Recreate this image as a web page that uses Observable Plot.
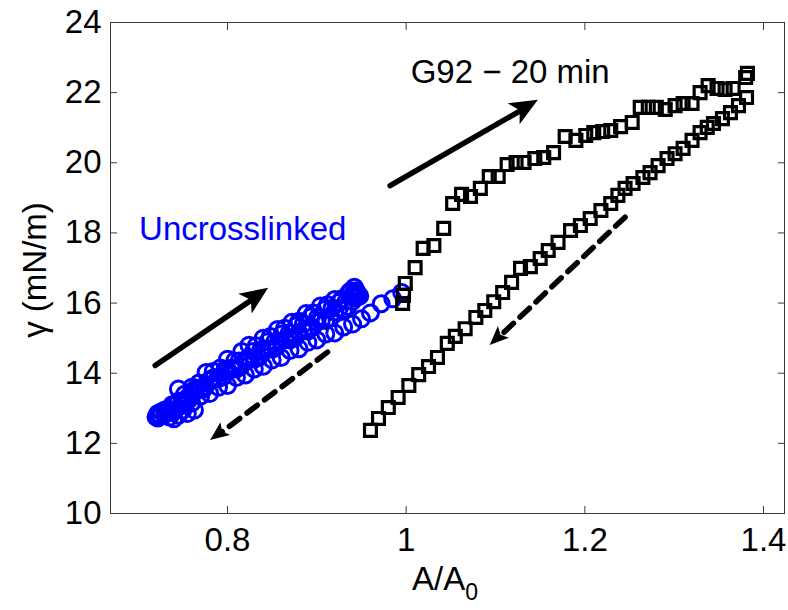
<!DOCTYPE html>
<html><head><meta charset="utf-8">
<script src="https://cdn.jsdelivr.net/npm/d3@7"></script>
<script src="https://cdn.jsdelivr.net/npm/@observablehq/plot@0.6"></script>
<style>
body{margin:0;background:#fff}
#chart svg{font-family:"Liberation Sans",Arial,Helvetica,sans-serif;overflow:visible}
</style>
</head><body><div id="chart"></div>
<script>
// Uncrosslinked (blue circles): several compression/expansion cycles
const uncrossX = [
 0.995,0.985,0.972,0.960,0.950,0.940,0.930,0.920,0.910,0.900,0.890,0.880,0.870,0.860,0.850,0.840,0.830,0.820,0.810,0.800,0.790,0.780,0.770,0.760,0.750,0.740,0.730,0.722,
 0.722,0.730,0.738,0.745,0.752,0.760,0.768,0.776,0.784,0.792,0.800,0.808,0.816,0.824,0.832,0.840,0.848,0.856,0.864,0.872,0.880,0.888,0.896,0.904,0.912,0.920,0.928,0.936,0.944,
 0.940,0.930,0.920,0.910,0.900,0.890,0.880,0.870,0.860,0.850,0.840,0.830,0.820,0.810,0.800,0.790,0.780,0.770,0.760,0.750,0.740,0.730,0.722,
 0.725,0.733,0.741,0.749,0.757,0.765,0.773,0.781,0.789,0.797,0.805,0.813,0.821,0.829,0.837,0.845,0.853,0.861,0.869,0.877,0.885,0.893,0.901,0.909,0.917,0.925,0.933,0.941,0.946,
 0.944,0.935,0.925,0.915,0.905,0.895,0.885,0.875,0.865,0.855,0.845,0.835,0.825,0.815,0.805,0.795,0.785,0.775,0.765,0.755,0.745,0.735,0.726,0.720,
 0.735,0.745,0.755,0.763,0.750,0.740,0.938,0.945,0.942,0.948
];
const uncrossY = [
 16.30,16.12,15.98,15.72,15.55,15.40,15.32,15.15,15.12,14.95,14.88,14.70,14.65,14.45,14.38,14.20,14.12,13.95,13.88,13.65,13.60,13.42,13.35,13.15,13.08,12.90,12.82,12.72,
 12.85,12.95,13.10,13.55,13.40,13.60,13.72,14.02,14.05,14.15,14.40,14.35,14.62,14.80,14.78,15.00,15.05,15.25,15.28,15.45,15.48,15.70,15.72,15.92,15.95,16.10,16.12,16.30,16.35,
 16.05,15.82,15.75,15.50,15.45,15.20,15.15,14.95,14.92,14.68,14.62,14.40,14.35,14.12,14.10,13.85,13.80,13.55,13.48,13.20,13.10,12.85,12.80,
 12.78,12.92,12.95,13.20,13.25,13.50,13.55,13.82,13.85,14.10,14.12,14.35,14.40,14.62,14.65,14.90,14.90,15.12,15.15,15.35,15.40,15.60,15.60,15.82,15.85,16.02,16.05,16.25,16.22,
 16.15,15.90,15.85,15.58,15.50,15.30,15.22,15.00,14.97,14.75,14.70,14.45,14.42,14.20,14.15,13.90,13.88,13.62,13.58,13.30,13.20,12.95,12.90,12.75,
 12.75,12.80,12.85,12.95,12.95,12.70,16.35,16.30,16.45,16.20
];
// G92 - 20 min (black squares): expansion branch then compression branch
const g92X = [
 0.996,0.997,0.999,1.010,1.019,1.031,1.042,1.052,1.062,1.072,1.083,1.093,1.103,1.113,1.123,1.132,1.144,1.154,1.165,1.178,1.190,1.201,1.210,1.220,1.229,1.240,1.253,1.262,1.271,1.280,1.290,1.301,1.310,1.320,1.329,1.338,1.348,1.357,1.366,1.380,1.382,
 1.381,1.372,1.363,1.354,1.344,1.337,1.329,1.320,1.310,1.301,1.292,1.282,1.273,1.265,1.254,1.245,1.237,1.229,1.218,1.206,1.195,1.184,1.170,1.159,1.150,1.139,1.128,1.118,1.108,1.098,1.088,1.078,1.066,1.055,1.046,1.035,1.025,1.014,1.003,0.991,0.980,0.969,0.960
];
const g92Y = [
 15.99,16.22,16.56,17.01,17.56,17.64,18.13,18.84,19.10,19.04,19.27,19.61,19.61,19.95,20.01,20.01,20.12,20.15,20.29,20.75,20.64,20.78,20.86,20.89,20.92,21.03,21.15,21.58,21.58,21.58,21.52,21.63,21.69,21.69,22.00,22.20,22.12,22.09,22.12,22.43,22.55,
 21.86,21.63,21.43,21.26,21.12,21.01,20.86,20.64,20.41,20.26,20.12,19.92,19.72,19.58,19.41,19.27,19.07,18.84,18.64,18.41,18.21,18.07,17.73,17.50,17.27,17.04,16.99,16.59,16.30,16.04,15.79,15.59,15.27,15.05,14.85,14.45,14.19,13.96,13.65,13.31,13.02,12.71,12.37
];
// Direction arrows (solid = expansion, dashed = compression)
const arrowX1 = [0.719, 0.982, 0.912, 1.245];
const arrowY1 = [14.22, 19.35, 14.60, 18.45];
const arrowX2 = [0.846, 1.148, 0.781, 1.094];
const arrowY2 = [16.42, 21.78, 12.08, 14.79];
const arrowDashed = [false, false, true, true];
// Annotations
const labelText = ["Uncrosslinked", "G92 − 20 min"];
const labelX = [0.701, 1.005];
const labelY = [18.10, 22.57];
const labelColor = ["#0000ff", "#000000"];
// Ticks
const xTicks = [0.8, 1.0, 1.2, 1.4];
const xTickLabels = ["0.8", "1", "1.2", "1.4"];
const yTicks = [10, 12, 14, 16, 18, 20, 22, 24];
const yTickLabels = ["10", "12", "14", "16", "18", "20", "22", "24"];

const uncross = uncrossX.map((x, i) => ({x, y: uncrossY[i]}));
const g92 = g92X.map((x, i) => ({x, y: g92Y[i]}));
const arrows = arrowX1.map((x1, i) => ({x1, y1: arrowY1[i], x2: arrowX2[i], y2: arrowY2[i], dashed: arrowDashed[i]}));
const labels = labelText.map((t, i) => ({t, x: labelX[i], y: labelY[i], c: labelColor[i]}));

const FS = 33;
const axisColor = "#3a3a3a";
const chart = Plot.plot({
  width: 788, height: 610,
  marginLeft: 110, marginRight: 4, marginTop: 22, marginBottom: 97,
  style: {fontFamily: '"Liberation Sans", Arial, sans-serif', background: "white"},
  x: {domain: [0.669, 1.4235], label: null},
  y: {domain: [10, 24], label: null},
  marks: [
    Plot.dot(uncross, {x: "x", y: "y", r: 8, stroke: "#0000ff", strokeWidth: 3, fill: "none"}),
    Plot.dot(g92, {x: "x", y: "y", symbol: "square", r: 6.7, stroke: "#000", strokeWidth: 3.2, fill: "none"}),
    Plot.arrow(arrows.filter(d => !d.dashed), {x1: "x1", y1: "y1", x2: "x2", y2: "y2", stroke: "#000", strokeWidth: 5.5, headLength: 0, insetEnd: 16}),
    Plot.arrow(arrows.filter(d => d.dashed), {x1: "x1", y1: "y1", x2: "x2", y2: "y2", stroke: "#000", strokeWidth: 5.5, headLength: 0, insetEnd: 12, strokeDasharray: "13,9"}),
    Plot.text(labels, {x: "x", y: "y", text: "t", fill: "c", textAnchor: "start", fontSize: FS}),
    Plot.frame({stroke: axisColor, strokeWidth: 1}),
    Plot.axisX(xTicks, {anchor: "bottom", tickSize: -7, tickFormat: () => "", stroke: axisColor}),
    Plot.axisX(xTicks, {anchor: "top", tickSize: -7, tickFormat: () => "", stroke: axisColor}),
    Plot.axisY(yTicks, {anchor: "left", tickSize: -7, tickFormat: () => "", stroke: axisColor}),
    Plot.axisY(yTicks, {anchor: "right", tickSize: -7, tickFormat: () => "", stroke: axisColor}),
    Plot.axisX(xTicks, {anchor: "bottom", tickSize: 0, tickPadding: 14, fontSize: FS, fill: "#000", tickFormat: (d) => xTickLabels[xTicks.indexOf(d)]}),
    Plot.axisY(yTicks, {anchor: "left", tickSize: 0, tickPadding: 9, fontSize: FS, fill: "#000", tickFormat: (d) => yTickLabels[yTicks.indexOf(d)]})
  ]
});
document.getElementById("chart").appendChild(chart);

const svg = d3.select(chart);
// filled arrow heads placed with the chart's own scales
const sx = chart.scale("x"), sy = chart.scale("y");
const heads = svg.append("g").attr("fill", "#000");
arrows.forEach(a => {
  const x1 = sx.apply(a.x1), y1 = sy.apply(a.y1), x2 = sx.apply(a.x2), y2 = sy.apply(a.y2);
  const dx = x2 - x1, dy = y2 - y1, len = Math.hypot(dx, dy);
  const ux = dx / len, uy = dy / len, px = -uy, py = ux;
  const L = a.dashed ? 19 : 28, W = a.dashed ? 8 : 12, N = a.dashed ? 4 : 7;
  const bx = x2 - ux * L, by = y2 - uy * L;
  heads.append("path").attr("d",
    `M${x2},${y2}L${bx + px * W},${by + py * W}L${x2 - ux * (L - N)},${y2 - uy * (L - N)}L${bx - px * W},${by - py * W}Z`);
});

svg.append("text")
  .attr("transform", "translate(34,270) rotate(-90)")
  .attr("text-anchor", "middle").attr("dominant-baseline", "central")
  .attr("font-size", FS).attr("fill", "#000")
  .text("γ (mN/m)");
const xl = svg.append("text")
  .attr("x", 445).attr("y", 590)
  .attr("text-anchor", "middle")
  .attr("font-size", FS).attr("fill", "#000");
xl.append("tspan").text("A/A");
xl.append("tspan").attr("font-size", 23).attr("dy", 10).text("0");
</script>
</body></html>
